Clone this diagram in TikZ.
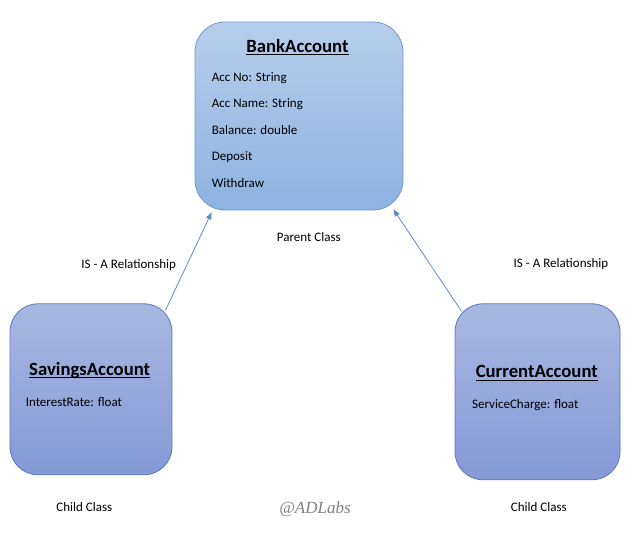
\documentclass[tikz,border=0pt]{standalone}
\usepackage{fontspec}
\setmainfont{Carlito}
\newfontfamily\signfont{Liberation Serif}
\usetikzlibrary{positioning,arrows.meta}
\definecolor{parenttop}{HTML}{B7CEEC}
\definecolor{parentbottom}{HTML}{8DB3E2}
\definecolor{parentline}{HTML}{7097CE}
\definecolor{childtop}{HTML}{A8B8E3}
\definecolor{childbottom}{HTML}{8599D6}
\definecolor{childline}{HTML}{5E76B9}
\definecolor{isablue}{HTML}{5F8CC8}
\newcommand{\classname}[1]{\setbox0\hbox{#1}\rlap{\rule[-2.8pt]{\wd0}{0.9pt}}\box0}
\tikzset{
    parent/.style ={
        shape=rectangle,
        rounded corners=30pt,
        draw=parentline,
        top color=parenttop,
        bottom color=parentbottom,
        line width=0.8pt
    },
    child/.style ={
        shape=rectangle,
        rounded corners=28pt,
        draw=childline,
        top color=childtop,
        bottom color=childbottom,
        line width=0.8pt
    },
    title/.style ={
        font=\bfseries\fontsize{18.7}{22}\selectfont,
        inner sep=0pt
    },
    attr/.style ={
        font=\fontsize{13}{15}\selectfont,
        inner sep=0pt
    },
    isa/.style ={
        draw=isablue,
        line width=0.8pt,
        -{Triangle[length=7pt,width=5.5pt]}
    }
}
\begin{document}
\begin{tikzpicture}[x=1pt,y=-1pt]
    \useasboundingbox (0,0) rectangle (632,536);
    \node[parent,minimum width=208pt,minimum height=188pt] (bank) at (299,116) {};
    \node[child,minimum width=162pt,minimum height=171pt,below=93pt of bank,xshift=-208pt] (savings) {};
    \node[child,minimum width=165pt,minimum height=176pt,below=93pt of bank,xshift=238.5pt] (current) {};
    % parent class
    \node[title,below=30.7pt of bank.north,xshift=-1.5pt,anchor=base] (banktitle) {\classname{BankAccount}};
    \node[attr,below right=59.7pt and 17pt of bank.north west,anchor=base west] (accno) {Acc No: String};
    \node[attr,below=26.5pt of accno.base west,anchor=base west] (accname) {Acc Name: String};
    \node[attr,below=26.5pt of accname.base west,anchor=base west] (balance) {Balance: double};
    \node[attr,below=26.5pt of balance.base west,anchor=base west] (deposit) {Deposit};
    \node[attr,below=26.5pt of deposit.base west,anchor=base west] (withdraw) {Withdraw};
    \node[attr,below=30.7pt of bank.south,xshift=9.8pt,anchor=base] (parentlabel) {Parent Class};
    % child classes
    \node[title,below=72pt of savings.north,xshift=-1.3pt,anchor=base] (savingstitle) {\classname{SavingsAccount}};
    \node[attr,below right=102.7pt and 16pt of savings.north west,anchor=base west] (rate) {InterestRate: float};
    \node[title,below=74.3pt of current.north,xshift=-0.7pt,anchor=base] (currenttitle) {\classname{CurrentAccount}};
    \node[attr,below right=105.3pt and 17.3pt of current.north west,anchor=base west] (charge) {ServiceCharge: float};
    \node[attr,below=36pt of savings.south,xshift=-6.7pt,anchor=base] (childleft) {Child Class};
    \node[attr,below=31pt of current.south,xshift=1.3pt,anchor=base] (childright) {Child Class};
    \node[attr,above=35.3pt of savings.north,xshift=37.7pt,anchor=base] (isaleft) {IS - A Relationship};
    \node[attr,above=35.7pt of current.north,xshift=23.5pt,anchor=base] (isaright) {IS - A Relationship};
    \node[inner sep=0pt,text=black!50,font=\signfont\itshape\fontsize{17}{20}\selectfont,below=302.7pt of bank.south,xshift=16pt,anchor=base] (sign) {@ADLabs};
    % is-a arrows
    \draw[isa] ([xshift=-7pt,yshift=-7pt]savings.north east) -- ([xshift=17pt,yshift=-2pt]bank.south west);
    \draw[isa] ([xshift=7pt,yshift=-8pt]current.north west) -- ([xshift=-10pt,yshift=1pt]bank.south east);
\end{tikzpicture}
\end{document}
